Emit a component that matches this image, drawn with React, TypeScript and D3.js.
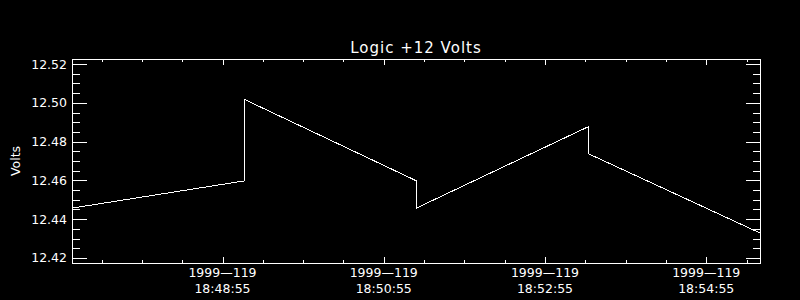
import React from "react";
import * as d3 from "d3";

const title = "Logic +12 Volts";
const yLabel = "Volts";
const times = ["18:47:03", "18:49:11", "18:49:11", "18:51:19", "18:51:19", "18:53:27", "18:53:27", "18:55:35"];
const values = [12.446, 12.46, 12.502, 12.46, 12.446, 12.488, 12.474, 12.433];
const xTickTimes = ["18:48:55", "18:50:55", "18:52:55", "18:54:55"];
const xTickDay = "1999—119";
const yTicks = [12.42, 12.44, 12.46, 12.48, 12.5, 12.52];
const xDomain = ["18:47:03", "18:55:35"];
const yDomain = [12.4174, 12.5226];

const toSec = (t: string) => {
  const [h, m, s] = t.split(":").map(Number);
  return h * 3600 + m * 60 + s;
};

const W = 800, H = 300;
const L = 72, R = 760, T = 59, B = 263;
const font = "DejaVu Sans";

export default function App() {
  const x = d3.scaleLinear().domain(xDomain.map(toSec)).range([L, R]);
  const y = d3.scaleLinear().domain(yDomain).range([B, T]);
  const line = d3
    .line<number>()
    .x((_, i) => x(toSec(times[i])) + 0.5)
    .y((v) => y(v) + 0.5);

  const majorX = xTickTimes.map(toSec);
  const minorX: number[] = [];
  const [x0, x1] = x.domain();
  for (let s = majorX[0] - 120; s <= x1; s += 30) {
    if (s >= x0 && !majorX.includes(s)) minorX.push(s);
  }
  const minorY: number[] = [];
  for (let i = 0; i < yTicks.length - 1; i++) {
    for (let k = 1; k < 4; k++) minorY.push(yTicks[i] + (k * (yTicks[i + 1] - yTicks[i])) / 4);
  }

  const cx = (v: number) => Math.round(v) + 0.5;

  return (
    <svg width={W} height={H} style={{ position: "absolute", left: 0, top: 0, background: "#000" }}>
      <rect x={0} y={0} width={W} height={H} fill="#000" />
      <g stroke="#fff" strokeWidth={1} fill="none" shapeRendering="crispEdges">
        <rect x={L + 0.5} y={T + 0.5} width={R - L} height={B - T} />
        {majorX.map((s) => (
          <g key={"mx" + s}>
            <line x1={cx(x(s))} x2={cx(x(s))} y1={B} y2={B - 6} />
            <line x1={cx(x(s))} x2={cx(x(s))} y1={T} y2={T + 6} />
          </g>
        ))}
        {minorX.map((s) => (
          <g key={"nx" + s}>
            <line x1={cx(x(s))} x2={cx(x(s))} y1={B} y2={B - 3} />
            <line x1={cx(x(s))} x2={cx(x(s))} y1={T} y2={T + 3} />
          </g>
        ))}
        {yTicks.map((v) => (
          <g key={"my" + v}>
            <line x1={L} x2={L + 15} y1={cx(y(v))} y2={cx(y(v))} />
            <line x1={R} x2={R - 14} y1={cx(y(v))} y2={cx(y(v))} />
          </g>
        ))}
        {minorY.map((v) => (
          <g key={"ny" + v}>
            <line x1={L} x2={L + 8} y1={cx(y(v))} y2={cx(y(v))} />
            <line x1={R} x2={R - 7} y1={cx(y(v))} y2={cx(y(v))} />
          </g>
        ))}
      </g>
      <path d={line(values) || ""} stroke="#fff" strokeWidth={1} fill="none" shapeRendering="crispEdges" />
      <g fill="#fff" fontFamily={font} fontSize={12.5}>
        {yTicks.map((v) => (
          <text key={"yl" + v} x={67} y={y(v) + 4.5} textAnchor="end">
            {v.toFixed(2)}
          </text>
        ))}
        {majorX.map((s, i) => (
          <g key={"xl" + s}>
            <text x={x(s)} y={277} textAnchor="middle">{xTickDay}</text>
            <text x={x(s)} y={292.5} textAnchor="middle">{xTickTimes[i]}</text>
          </g>
        ))}
        <text transform={`translate(20,${(T + B) / 2}) rotate(-90)`} textAnchor="middle">
          {yLabel}
        </text>
      </g>
      <text x={(L + R) / 2} y={53} textAnchor="middle" fill="#fff" fontFamily={font} fontSize={15} letterSpacing={1}>
        {title}
      </text>
    </svg>
  );
}
